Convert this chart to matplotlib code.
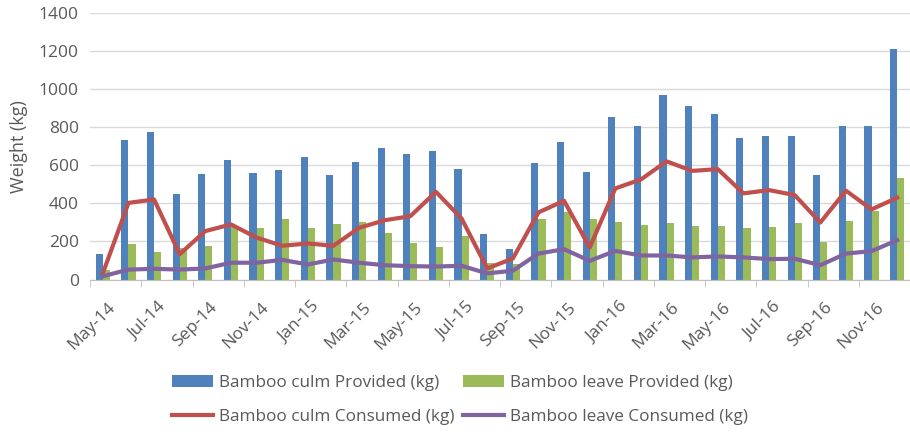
import numpy as np
import matplotlib
matplotlib.use("Agg")
import matplotlib.pyplot as plt
import matplotlib.transforms as mtransforms

months = ["May-14", "Jun-14", "Jul-14", "Aug-14", "Sep-14", "Oct-14", "Nov-14", "Dec-14",
          "Jan-15", "Feb-15", "Mar-15", "Apr-15", "May-15", "Jun-15", "Jul-15", "Aug-15",
          "Sep-15", "Oct-15", "Nov-15", "Dec-15", "Jan-16", "Feb-16", "Mar-16", "Apr-16",
          "May-16", "Jun-16", "Jul-16", "Aug-16", "Sep-16", "Oct-16", "Nov-16", "Dec-16"]

culm_provided = [136, 730, 772, 448, 553, 626, 560, 572, 642, 550, 614, 690, 656, 672, 578, 241,
                 159, 611, 719, 562, 854, 808, 968, 908, 870, 740, 752, 752, 550, 805, 807, 1211]
leave_provided = [49, 184, 144, 165, 175, 275, 271, 320, 268, 289, 301, 243, 193, 172, 226, 84,
                  80, 320, 355, 315, 304, 285, 299, 280, 280, 270, 275, 298, 196, 308, 360, 534]
culm_consumed = [32, 402, 420, 133, 254, 289, 220, 177, 189, 177, 271, 311, 332, 460, 320, 58,
                 110, 352, 413, 168, 478, 525, 620, 570, 579, 452, 469, 443, 299, 466, 368, 429]
leave_consumed = [17, 52, 56, 52, 58, 88, 88, 103, 79, 105, 88, 75, 70, 68, 72, 32,
                  46, 136, 159, 98, 150, 126, 126, 116, 121, 116, 107, 109, 75, 136, 149, 206]

plt.rcParams['font.family'] = ['Open Sans', 'DejaVu Sans']
gray = '#595959'

fig = plt.figure(figsize=(9.1, 4.32), dpi=100)
ax = fig.add_axes([90/910, 1-279.5/432, 820/910, 266.8/432])

x = np.arange(len(months))
w = 0.28
b1 = ax.bar(x - w/2, culm_provided, w, color='#4f81bd', zorder=2, label='Bamboo culm Provided (kg)')
b2 = ax.bar(x + w/2, leave_provided, w, color='#9bbb59', zorder=2, label='Bamboo leave Provided (kg)')
l1, = ax.plot(x, culm_consumed, color='#c0504d', lw=3, zorder=3, label='Bamboo culm Consumed (kg)')
l2, = ax.plot(x, leave_consumed, color='#8064a2', lw=3, zorder=3, label='Bamboo leave Consumed (kg)')

ax.set_xlim(-0.5, len(months) - 0.5)
ax.set_ylim(0, 1400)
ax.set_yticks(range(0, 1401, 200))
ax.yaxis.grid(True, color='#d9d9d9', lw=1, zorder=0)
ax.set_axisbelow(True)

ax.set_xticks(x[::2])
ax.set_xticklabels(months[::2], rotation=45, ha='right', rotation_mode='anchor')
ax.set_xticks(np.arange(-0.5, len(months), 2), minor=True)
ax.tick_params(axis='x', which='major', length=0, pad=14, labelsize=12.5, labelcolor=gray)
ax.tick_params(axis='x', which='minor', length=5, color='#bfbfbf')
ax.tick_params(axis='y', length=0, labelsize=12.5, labelcolor=gray, pad=8)
# nudge the rotated labels a little to the right
shift = mtransforms.ScaledTranslation(4/100, 0, fig.dpi_scale_trans)
for lab in ax.get_xticklabels():
    lab.set_transform(lab.get_transform() + shift)

for s in ['top', 'right', 'left']:
    ax.spines[s].set_visible(False)
ax.spines['bottom'].set_color('#bfbfbf')

ax.set_ylabel('Weight (kg)', fontsize=13, color=gray, labelpad=8)

fig.legend([b1, l1, b2, l2],
           [b1.get_label(), l1.get_label(), b2.get_label(), l2.get_label()],
           ncol=2, loc='center', bbox_to_anchor=(460/910, 1-400/432),
           frameon=False, fontsize=12.3, labelcolor=gray, handlelength=2.4,
           labelspacing=1.05, columnspacing=0.5, handletextpad=0.35)

fig.savefig('out.png', dpi=100)
